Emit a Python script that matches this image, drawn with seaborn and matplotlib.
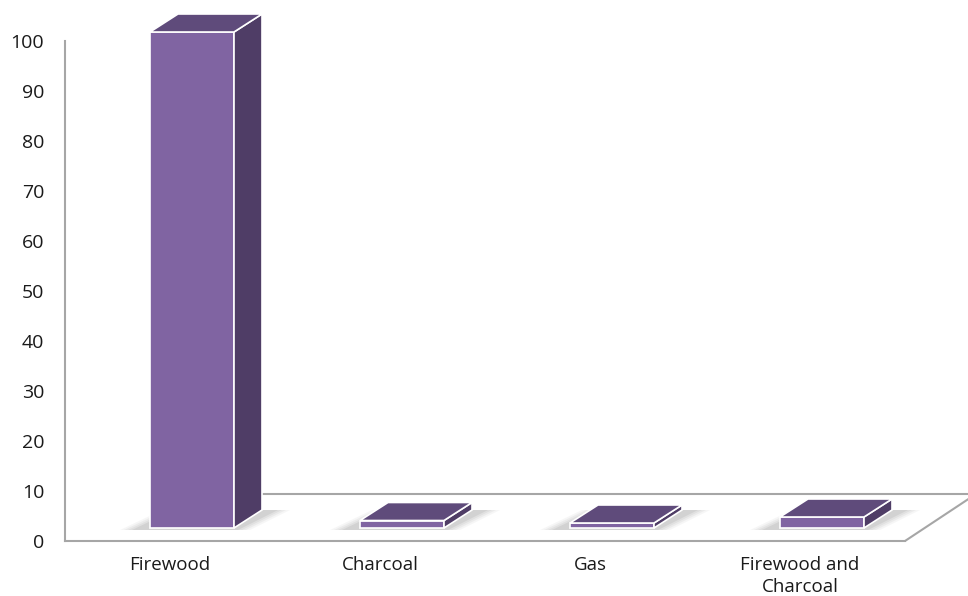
import numpy as np
import pandas as pd
import seaborn as sns
import matplotlib
matplotlib.use("Agg")
import matplotlib.pyplot as plt
from matplotlib.patches import Polygon
from matplotlib.transforms import ScaledTranslation, IdentityTransform
from matplotlib.lines import Line2D

# ---- data ----
categories = ["Firewood", "Charcoal", "Gas", "Firewood and\nCharcoal"]
values = [99.2, 1.5, 1.0, 2.2]
yticks = [0, 10, 20, 30, 40, 50, 60, 70, 80, 90, 100]

FRONT = "#8064A2"
TOP = "#5F4B7B"
SIDE = "#4F3D66"
GRID = "#A6A6A6"

sns.set_style("white")
plt.rcParams["font.family"] = ["Open Sans", "DejaVu Sans"]

fig = plt.figure(figsize=(9.68, 5.96), dpi=100)
ax = fig.add_axes([65 / 968, 55 / 596, 840 / 968, 500 / 596])

df = pd.DataFrame({"source": categories, "share": values})
sns.barplot(data=df, x="source", y="share", color=FRONT, saturation=1,
            width=0.4, edgecolor="white", linewidth=1.2, ax=ax, zorder=5)

ax.set_xlim(-0.5, 3.5)
ax.set_ylim(0, 100)
ax.set_yticks(yticks)
ax.set_xlabel("")
ax.set_ylabel("")
for s in ["top", "right"]:
    ax.spines[s].set_visible(False)
for s in ["left", "bottom"]:
    ax.spines[s].set_color(GRID)
    ax.spines[s].set_linewidth(1.5)
    ax.spines[s].set_zorder(1)
ax.tick_params(axis="y", direction="in", length=3, color=GRID, pad=15,
               labelsize=14, labelcolor="#1a1a1a")
ax.tick_params(axis="x", length=0, pad=11, labelsize=13.5, labelcolor="#1a1a1a")
for lab in ax.get_xticklabels():
    lab.set_linespacing(1.3)

fig.canvas.draw()

# depth vectors in pixels (display coords)
F = np.array([22.0, 13.0])    # front-face offset of bars from front plane
D = np.array([28.0, 18.0])    # bar depth
FD = np.array([71.0, 47.0])   # floor depth

ident = IdentityTransform()

# floor lines (back edge + right diagonal)
p_right = ax.transData.transform((3.5, 0))
p_start = ax.transData.transform((0, 0))
back_y = p_right[1] + FD[1]
ax.add_line(Line2D([p_start[0] + FD[0], p_right[0] + FD[0]], [back_y, back_y],
                   transform=ident, color=GRID, lw=1.5, zorder=1, clip_on=False))
ax.add_line(Line2D([p_right[0], p_right[0] + FD[0]], [p_right[1], back_y],
                   transform=ident, color=GRID, lw=1.5, zorder=1, clip_on=False))

for patch in list(ax.patches):
    x0 = patch.get_x()
    w = patch.get_width()
    h = patch.get_height()
    bl = ax.transData.transform((x0, 0)) + F
    br = ax.transData.transform((x0 + w, 0)) + F
    tl = ax.transData.transform((x0, h)) + F
    tr = ax.transData.transform((x0 + w, h)) + F
    # soft shadow on the floor
    for k, a in enumerate([0.04, 0.05, 0.06, 0.08]):
        grow = 16 - 4 * k
        shp = [bl + np.array([-grow - 14, -2]), br + np.array([grow, -2]),
               br + D + np.array([grow + 12, 0]), bl + D + np.array([-grow, 0])]
        ax.add_patch(Polygon(shp, closed=True, transform=ident, clip_on=False,
                             facecolor="#303030", edgecolor="none", alpha=a, zorder=2))
    patch.set_transform(ax.transData + ScaledTranslation(F[0] / 100, F[1] / 100, fig.dpi_scale_trans))
    patch.set_clip_on(False)
    top = [tl, tr, tr + D, tl + D]
    side = [br, tr, tr + D, br + D]
    ax.add_patch(Polygon(side, closed=True, transform=ident, clip_on=False,
                         facecolor=SIDE, edgecolor="white", lw=1.2, zorder=6))
    ax.add_patch(Polygon(top, closed=True, transform=ident, clip_on=False,
                         facecolor=TOP, edgecolor="white", lw=1.2, zorder=6))

fig.savefig("out.png", dpi=100)
